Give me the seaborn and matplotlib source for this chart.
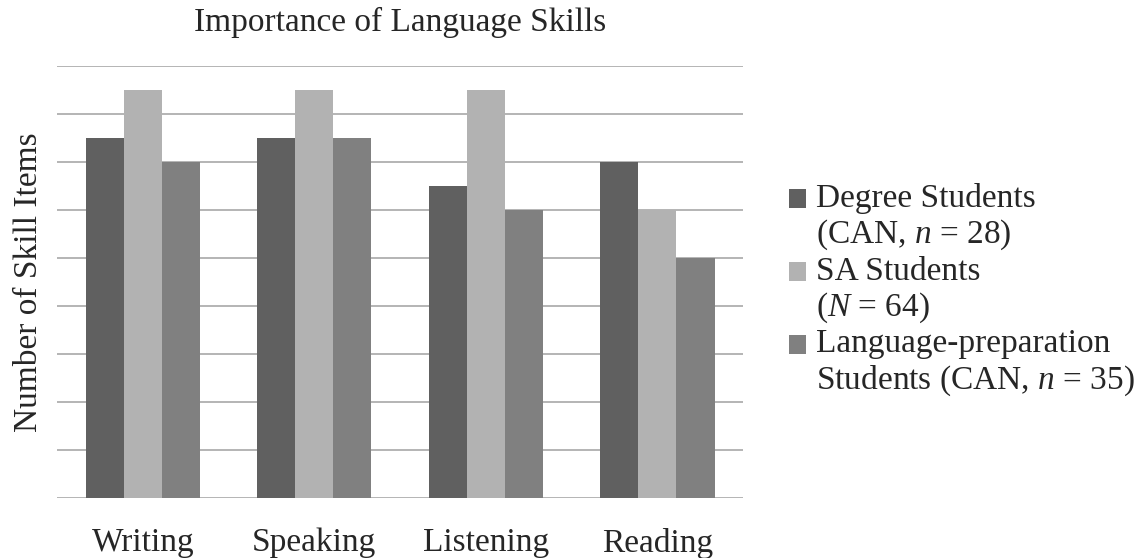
import numpy as np
import pandas as pd
import matplotlib.pyplot as plt
import seaborn as sns
from matplotlib.patches import Patch

skills = ['Writing', 'Speaking', 'Listening', 'Reading']
groups = ['Degree', 'SA', 'LangPrep']
degree_vals = [7.5, 7.5, 6.5, 7.0]
sa_vals = [8.5, 8.5, 8.5, 6.0]
langprep_vals = [7.0, 7.5, 6.0, 5.0]
legend_labels = ['Degree Students\n(CAN, $n$ = 28)',
                 'SA Students\n($N$ = 64)',
                 'Language-preparation\nStudents (CAN, $n$ = 35)']
palette = ['#606060', '#b2b2b2', '#808080']

df = pd.DataFrame({
    'skill': skills * 3,
    'group': np.repeat(groups, len(skills)),
    'value': degree_vals + sa_vals + langprep_vals,
})

sns.set_style('white')
plt.rcParams['font.family'] = ['Liberation Serif', 'DejaVu Serif']
plt.rcParams['mathtext.fontset'] = 'custom'
plt.rcParams['mathtext.rm'] = 'Liberation Serif'
plt.rcParams['mathtext.it'] = 'Liberation Serif:italic'

fig = plt.figure(figsize=(11.47, 5.58), dpi=100)
ax = fig.add_axes([0.0497, 0.1075, 0.5983, 0.7745])

sns.barplot(data=df, x='skill', y='value', hue='group', hue_order=groups,
            palette=palette, width=0.665, saturation=1, ax=ax,
            edgecolor='none', linewidth=0, legend=False, zorder=2)

ax.set_ylim(0, 9)
ax.set_yticks(np.arange(0, 10, 1))
ax.set_yticklabels([])
ax.tick_params(axis='y', length=0)
ax.tick_params(axis='x', length=0, labelsize=24, pad=21.5)
ax.grid(axis='y', color='#a8a8a8', linewidth=1.2, zorder=0)
ax.set_axisbelow(True)
for s in ax.spines.values():
    s.set_visible(False)
ax.set_xlabel('')
ax.set_ylabel('Number of Skill Items', fontsize=24, labelpad=6)
ax.set_title('Importance of Language Skills', fontsize=24, pad=25)

handles = [Patch(facecolor=c, edgecolor='none') for c in palette]
leg = fig.legend(handles, legend_labels, loc='center left',
                 bbox_to_anchor=(0.662, 0.48), frameon=False, fontsize=24,
                 handlelength=0.5, handleheight=0.5, handletextpad=0.3,
                 labelspacing=0.12)
for t in leg.get_texts():
    t.set_linespacing(1.15)
# put the square beside the first line of each label
for p in leg.get_patches():
    p.set_y(p.get_y() + 13.5)

fig.savefig('out.png', dpi=100)
